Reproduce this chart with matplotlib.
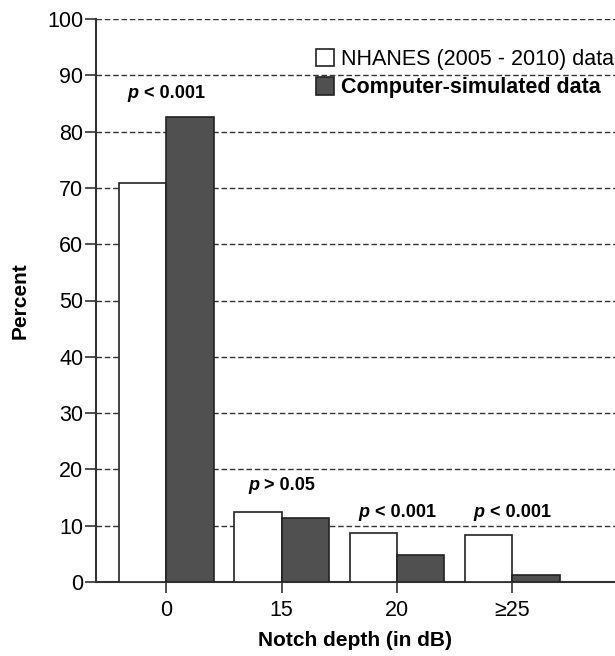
# Notch depth distribution: NHANES vs computer-simulated data
import matplotlib.pyplot as plt
import matplotlib.transforms as mtransforms
import numpy as np

plt.rcParams['font.family'] = ['Liberation Sans', 'DejaVu Sans']

# Data
categories = ["0", "15", "20", "\u226525"]
nhanes = [70.8, 12.4, 8.7, 8.4]
simulated = [82.6, 11.4, 4.8, 1.2]
p_labels = ["< 0.001", "> 0.05", "< 0.001", "< 0.001"]
p_heights = [86.7, 17.2, 12.4, 12.4]

fig = plt.figure(figsize=(6.15, 6.56), dpi=100)
ax = fig.add_axes([96 / 615, 1 - 582 / 656, 1 - 96 / 615, (582 - 19) / 656])

x = np.arange(len(categories))
w = 0.41
ax.bar(x - w / 2, nhanes, w, color="white", edgecolor="#222222", linewidth=1.2,
       label="NHANES (2005 - 2010) data", zorder=3)
ax.bar(x + w / 2, simulated, w, color="#505050", edgecolor="#222222", linewidth=1.2,
       label="Computer-simulated data", zorder=3)

# p-values above each group: italic "p" + bold rest, centred as one piece
renderer = fig.canvas.get_renderer()
for i in range(len(categories)):
    t1 = ax.text(x[i], p_heights[i], "p", fontsize=13, fontweight="bold",
                 style="italic", ha="left", va="center")
    t2 = ax.text(x[i], p_heights[i], " " + p_labels[i], fontsize=13,
                 fontweight="bold", ha="left", va="center")
    w1 = t1.get_window_extent(renderer).width
    w2 = t2.get_window_extent(renderer).width
    half = (w1 + w2) / 2
    t1.set_transform(mtransforms.offset_copy(ax.transData, fig=fig, x=-half, y=0, units="dots"))
    t2.set_transform(mtransforms.offset_copy(ax.transData, fig=fig, x=-half + w1, y=0, units="dots"))

ax.set_ylim(0, 100)
ax.set_xlim(-0.61, 3.89)
ax.set_yticks(range(0, 101, 10))
ax.set_xticks(x)
ax.set_xticklabels(categories)
ax.tick_params(axis="both", labelsize=15.5, length=8, width=1.2, color="#333333", direction="out")
ax.tick_params(axis="x", pad=5)
ax.tick_params(axis="y", pad=1)

ax.yaxis.grid(True, linestyle=(0, (4, 2)), color="#333333", linewidth=1.0, zorder=0)
ax.set_axisbelow(True)
for s in ["top", "right"]:
    ax.spines[s].set_visible(False)
for s in ["left", "bottom"]:
    ax.spines[s].set_linewidth(1.5)
    ax.spines[s].set_color("#333333")

ax.set_xlabel("Notch depth (in dB)", fontsize=15, fontweight="bold", labelpad=7)
ax.set_ylabel("Percent", fontsize=15, fontweight="bold", labelpad=13)

leg = ax.legend(loc="upper left", bbox_to_anchor=(0.424, 0.947), frameon=False, fontsize=15.5,
                handlelength=0.85, handleheight=0.85, handletextpad=0.3, labelspacing=0.35,
                borderaxespad=0, borderpad=0)
leg.get_texts()[1].set_fontweight("bold")

fig.savefig("out.png", dpi=100)
